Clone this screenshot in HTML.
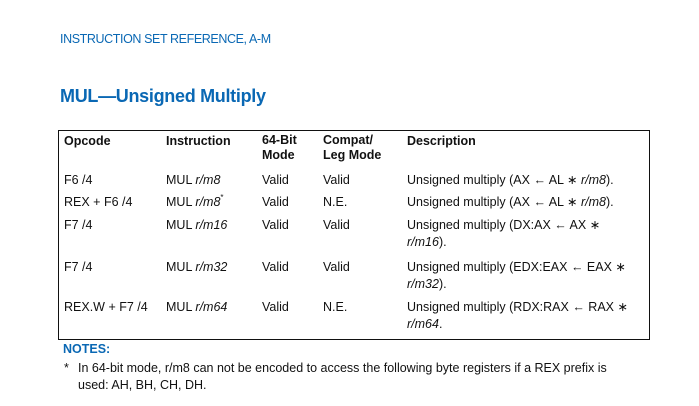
<!DOCTYPE html>
<html><head><meta charset="utf-8"><style>
body{margin:0;width:699px;height:406px;background:#fff;position:relative;overflow:hidden;font-family:"Liberation Sans",sans-serif;color:#111;}
.t{position:absolute;font-size:12.5px;line-height:17px;white-space:nowrap;}
.b{font-weight:bold;}
i{font-style:italic;}
sup{font-size:8px;line-height:0;vertical-align:6px;}
.blue{color:#0a68b4;}
</style></head><body>
<div class="t blue" style="left:60px;top:31px;font-size:12.5px;letter-spacing:-0.4px;">INSTRUCTION SET REFERENCE, A-M</div>
<div class="t blue b" style="left:60px;top:85px;font-size:18px;line-height:22px;letter-spacing:-0.3px;">MUL—Unsigned Multiply</div>
<div style="position:absolute;left:58px;top:130px;width:590px;height:208px;border:1.5px solid #111;"></div>
<div class="t b" style="left:64px;top:133px;">Opcode</div>
<div class="t b" style="left:166px;top:133px;">Instruction</div>
<div class="t b" style="left:262px;top:133px;line-height:15px;">64-Bit<br>Mode</div>
<div class="t b" style="left:323px;top:133px;line-height:15px;">Compat/<br>Leg Mode</div>
<div class="t b" style="left:407px;top:133px;">Description</div>

<div class="t" style="left:64px;top:172px;">F6 /4</div>
<div class="t" style="left:166px;top:172px;">MUL <i>r/m8</i></div>
<div class="t" style="left:262px;top:172px;">Valid</div>
<div class="t" style="left:323px;top:172px;">Valid</div>
<div class="t" style="left:407px;top:172px;">Unsigned multiply (AX ← AL ∗ <i>r/m8</i>).</div>

<div class="t" style="left:64px;top:194px;">REX + F6 /4</div>
<div class="t" style="left:166px;top:194px;">MUL <i>r/m8</i><sup>*</sup></div>
<div class="t" style="left:262px;top:194px;">Valid</div>
<div class="t" style="left:323px;top:194px;">N.E.</div>
<div class="t" style="left:407px;top:194px;">Unsigned multiply (AX ← AL ∗ <i>r/m8</i>).</div>

<div class="t" style="left:64px;top:217px;">F7 /4</div>
<div class="t" style="left:166px;top:217px;">MUL <i>r/m16</i></div>
<div class="t" style="left:262px;top:217px;">Valid</div>
<div class="t" style="left:323px;top:217px;">Valid</div>
<div class="t" style="left:407px;top:217px;">Unsigned multiply (DX:AX ← AX ∗<br><i>r/m16</i>).</div>

<div class="t" style="left:64px;top:259px;">F7 /4</div>
<div class="t" style="left:166px;top:259px;">MUL <i>r/m32</i></div>
<div class="t" style="left:262px;top:259px;">Valid</div>
<div class="t" style="left:323px;top:259px;">Valid</div>
<div class="t" style="left:407px;top:259px;">Unsigned multiply (EDX:EAX ← EAX ∗<br><i>r/m32</i>).</div>

<div class="t" style="left:64px;top:299px;">REX.W + F7 /4</div>
<div class="t" style="left:166px;top:299px;">MUL <i>r/m64</i></div>
<div class="t" style="left:262px;top:299px;">Valid</div>
<div class="t" style="left:323px;top:299px;">N.E.</div>
<div class="t" style="left:407px;top:299px;">Unsigned multiply (RDX:RAX ← RAX ∗<br><i>r/m64</i>.</div>

<div class="t b blue" style="left:63px;top:341px;">NOTES:</div>
<div class="t" style="left:64px;top:360px;">*</div>
<div class="t" style="left:78px;top:360px;">In 64-bit mode, r/m8 can not be encoded to access the following byte registers if a REX prefix is<br>used: AH, BH, CH, DH.</div>
</body></html>
